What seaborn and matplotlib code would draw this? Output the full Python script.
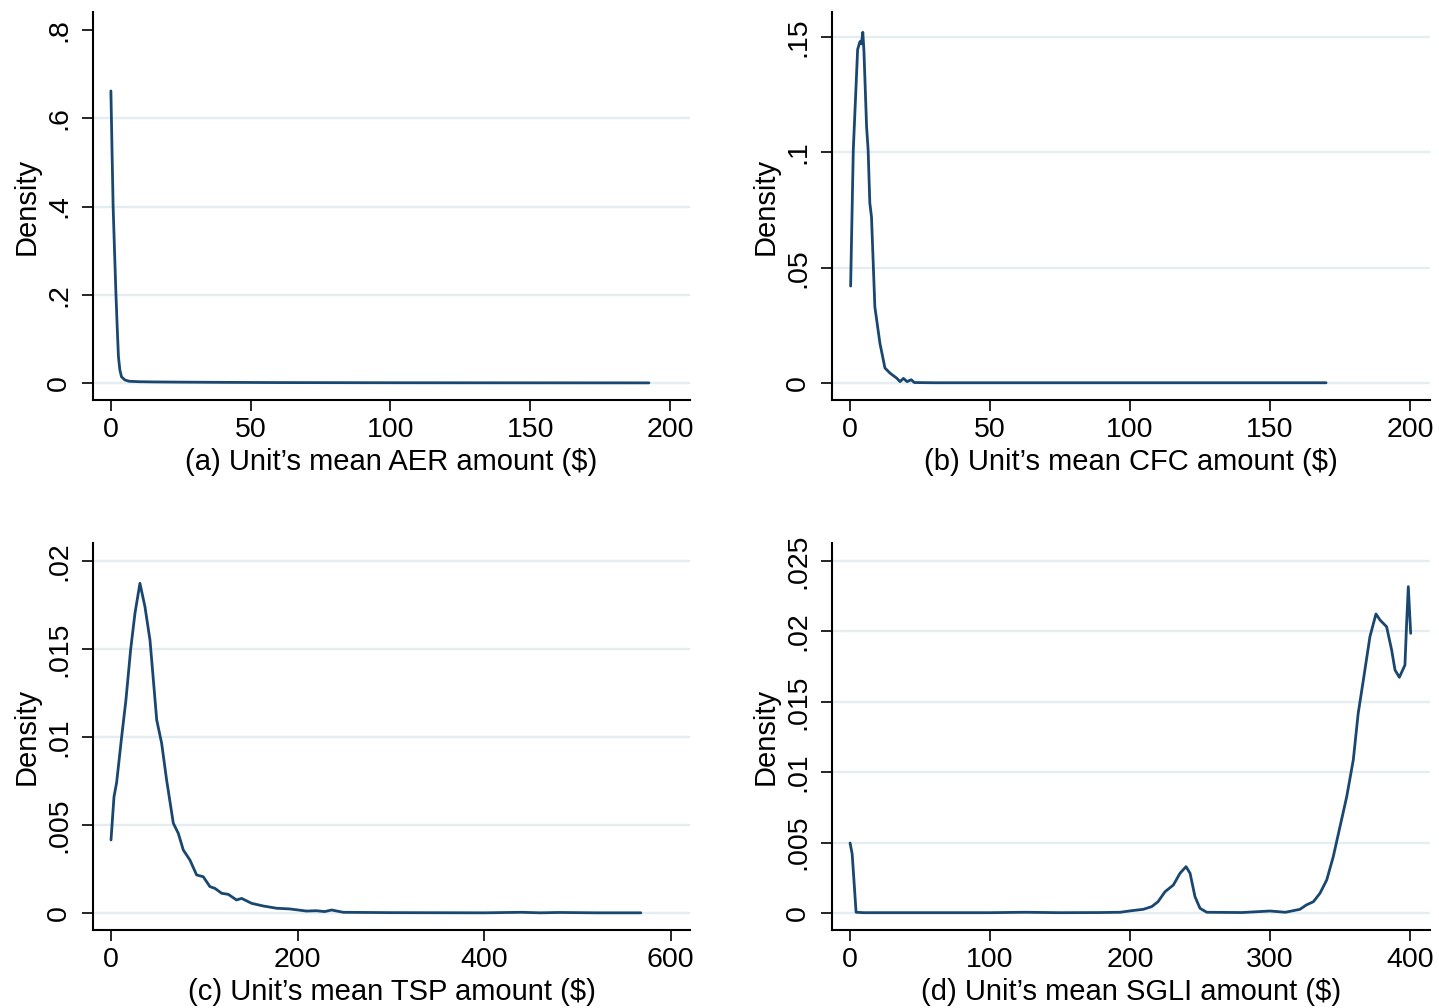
import numpy as np
import pandas as pd
import matplotlib
matplotlib.use("Agg")
import matplotlib.pyplot as plt
import seaborn as sns

# ---------------- data ----------------
aer_x = [0, 0.4, 0.8, 1.3, 1.8, 2.3, 2.7, 3.2, 3.8, 5.0, 6.5, 10, 15, 25, 40, 60, 100, 150, 192.5]
aer_y = [0.662, 0.53, 0.40, 0.30, 0.203, 0.12, 0.06, 0.03, 0.014, 0.007, 0.004, 0.003,
         0.0025, 0.002, 0.0015, 0.001, 0.0006, 0.0004, 0.0003]

cfc_x = [0.25, 1.2, 2.75, 3.6, 4.1, 4.6, 5.0, 5.95, 6.5, 7.1, 7.7, 8.9, 10.7, 12.5, 14.3,
         16.7, 17.9, 19.1, 20.4, 21.9, 23, 30, 60, 100, 170]
cfc_y = [0.042, 0.101, 0.1446, 0.148, 0.147, 0.152, 0.144, 0.111, 0.101, 0.078, 0.072, 0.033,
         0.0173, 0.0065, 0.0043, 0.0021, 0.0006, 0.002, 0.0006, 0.0014, 0.0002, 0.0001,
         0.0001, 0.0001, 0.0001]

tsp_x = [0, 3.2, 6, 11.4, 16, 21, 25.7, 31, 36.4, 41.8, 45.4, 49, 54.3, 59.6, 66.8, 72.1,
         77.5, 84.6, 91.8, 98.9, 106, 111.4, 118.6, 125.7, 134.6, 140, 150.7, 163, 177.5,
         191.8, 209.6, 220, 229, 236.5, 249, 300, 400, 440, 460, 480, 520, 568]
tsp_y = [0.00415, 0.0066, 0.0074, 0.0100, 0.0121, 0.01494, 0.01703, 0.01873, 0.0174, 0.0155,
         0.01324, 0.01097, 0.00964, 0.00756, 0.0051, 0.00453, 0.00358, 0.00301, 0.00216,
         0.00206, 0.0015, 0.0014, 0.00112, 0.00106, 0.00074, 0.00083, 0.00055, 0.0004,
         0.00027, 0.00023, 0.00011, 0.00013, 0.00008, 0.00017, 0.00004, 0.00002, 0.00001,
         0.00004, 0.00001, 0.00003, 0.00001, 0.00001]

sgli_x = [0, 1.5, 3, 4.3, 10, 100, 125, 150, 178.6, 192.9, 201, 209.5, 215.5, 220, 225, 231,
          235.7, 240, 242.9, 246.4, 250, 254.8, 280, 300, 311, 321.4, 326, 331, 335.7, 340.5,
          345.2, 350, 354.8, 359.5, 363, 366.7, 371.4, 375.7, 378.6, 383.3, 386.9, 389.3,
          392.4, 396.4, 397.6, 398.8, 400.5]
sgli_y = [0.00497, 0.0042, 0.002, 0.00005, 0.00002, 0.00002, 0.00005, 0.00002, 0.00003,
          0.00005, 0.00016, 0.00026, 0.00045, 0.0008, 0.00151, 0.00199, 0.00282, 0.00329,
          0.00282, 0.00116, 0.00033, 0.00005, 0.00003, 0.00014, 0.00005, 0.00026, 0.00057,
          0.0008, 0.0014, 0.00234, 0.004, 0.00613, 0.00826, 0.01087, 0.01418, 0.01655,
          0.01963, 0.02124, 0.02081, 0.02033, 0.01868, 0.01726, 0.01674, 0.01761, 0.02057,
          0.02318, 0.01986]

xlabels = ["(a) Unit\u2019s mean AER amount ($)", "(b) Unit\u2019s mean CFC amount ($)",
           "(c) Unit\u2019s mean TSP amount ($)", "(d) Unit\u2019s mean SGLI amount ($)"]

xticks_a = [0, 50, 100, 150, 200]
xticks_b = [0, 50, 100, 150, 200]
xticks_c = [0, 200, 400, 600]
xticks_d = [0, 100, 200, 300, 400]

yticks_a = [0, 0.2, 0.4, 0.6, 0.8]
ylabels_a = ["0", ".2", ".4", ".6", ".8"]
yticks_b = [0, 0.05, 0.1, 0.15]
ylabels_b = ["0", ".05", ".1", ".15"]
yticks_c = [0, 0.005, 0.01, 0.015, 0.02]
ylabels_c = ["0", ".005", ".01", ".015", ".02"]
yticks_d = [0, 0.005, 0.01, 0.015, 0.02, 0.025]
ylabels_d = ["0", ".005", ".01", ".015", ".02", ".025"]

# ---------------- style ----------------
sns.set_theme(style="ticks")
plt.rcParams['font.family'] = ['Liberation Sans', 'DejaVu Sans']

W, H = 1439, 1008
fig = plt.figure(figsize=(W / 100, H / 100), dpi=100)
fig.patch.set_facecolor("white")

LINE = "#1a476f"
GRID = "#e4eef1"
FS_TICK = 20.5
FS_LAB = 21

def px_axes(l, t, r, b):
    return fig.add_axes([l / W, 1 - b / H, (r - l) / W, (b - t) / H])

panels = [
    (px_axes(93, 12, 690, 400), aer_x, aer_y, xticks_a, yticks_a, ylabels_a,
     (-6.4, 207.2), (-0.0385, 0.841), xlabels[0], True),
    (px_axes(832, 12, 1430, 400), cfc_x, cfc_y, xticks_b, yticks_b, ylabels_b,
     (-6.4, 207.1), (-0.00737, 0.1608), xlabels[1], False),
    (px_axes(93, 543, 690, 930), tsp_x, tsp_y, xticks_c, yticks_c, ylabels_c,
     (-19.3, 620.7), (-0.000966, 0.02102), xlabels[2], False),
    (px_axes(832, 543, 1430, 930), sgli_x, sgli_y, xticks_d, yticks_d, ylabels_d,
     (-12.9, 414.3), (-0.00121, 0.02628), xlabels[3], False),
]

for ax, xs, ys, xt, yt, yl, xlim, ylim, xlab, skip_top in panels:
    ax.set_facecolor("white")
    df = pd.DataFrame({"x": xs, "y": ys})
    sns.lineplot(data=df, x="x", y="y", ax=ax, color=LINE, linewidth=2.0,
                 estimator=None, sort=False, zorder=3)
    ax.set_xlim(*xlim)
    ax.set_ylim(*ylim)
    ax.set_xticks(xt)
    ax.set_xticklabels([str(v) for v in xt])
    ax.set_yticks(yt)
    ax.set_yticklabels(yl)
    ax.grid(axis="y", color=GRID, linewidth=1.7, zorder=0)
    ax.grid(axis="x", visible=False)
    if skip_top:
        ax.get_ygridlines()[-1].set_visible(False)
    for s in ["top", "right"]:
        ax.spines[s].set_visible(False)
    for s in ["left", "bottom"]:
        ax.spines[s].set_color("black")
        ax.spines[s].set_linewidth(1.5)
    ax.tick_params(axis="both", direction="out", length=8, width=1.2, color="black",
                   labelsize=FS_TICK, labelcolor="black")
    ax.tick_params(axis="x", pad=4)
    ax.tick_params(axis="y", labelrotation=90, pad=7)
    for lab in ax.get_yticklabels():
        lab.set_va("center")
    ax.set_xlabel(xlab, fontsize=FS_LAB, color="black", labelpad=4)
    ax.set_ylabel("Density", fontsize=FS_LAB, color="black", labelpad=4)

fig.savefig("out.png", dpi=100, facecolor="white")
